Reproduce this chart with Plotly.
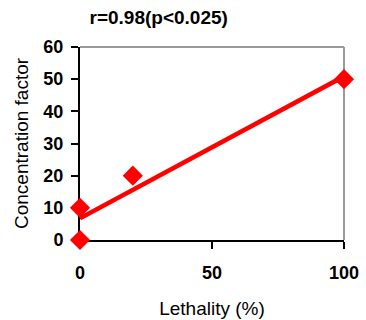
import numpy as np
import plotly.graph_objects as go

lethality = [0, 0, 20, 100]
conc_factor = [0, 10, 20, 50]
x_ticks = [0, 50, 100]
y_ticks = [0, 10, 20, 30, 40, 50, 60]
title_text = "r=0.98(p<0.025)"

slope, intercept = np.polyfit(lethality, conc_factor, 1)
fit_x = [0, 100]
fit_y = [intercept + slope * v for v in fit_x]

RED = "#FF0000"
FONT = "Liberation Sans, Arial, sans-serif"

fig = go.Figure()
fig.add_trace(go.Scatter(x=fit_x, y=fit_y, mode="lines",
                         line=dict(color=RED, width=4.5), cliponaxis=False,
                         hoverinfo="skip", showlegend=False))
fig.add_trace(go.Scatter(x=lethality, y=conc_factor, mode="markers",
                         marker=dict(symbol="diamond", size=15.5, color=RED,
                                     line=dict(width=0)),
                         cliponaxis=False, showlegend=False))

fig.update_layout(
    width=366, height=320,
    margin=dict(l=80, r=22, t=47, b=80, autoexpand=False),
    paper_bgcolor="white", plot_bgcolor="white",
    font=dict(family=FONT, color="black"),
    title=dict(text="<b>%s</b>" % title_text, font=dict(size=19, family=FONT),
               x=0.036, xref="paper", xanchor="left",
               y=1 - 17 / 320, yref="container", yanchor="middle"),
    xaxis=dict(range=[0, 100], tickvals=x_ticks, ticktext=["<b>%d</b>" % v for v in x_ticks],
               showgrid=False, zeroline=False, showline=True, linecolor="black", linewidth=2,
               ticks="outside", ticklen=7, tickwidth=2, tickcolor="black", layer="below traces",
               tickfont=dict(size=18), ticklabelstandoff=8,
               title=dict(text="Lethality (%)", font=dict(size=19), standoff=20)),
    yaxis=dict(range=[0, 60], tickvals=y_ticks, ticktext=["<b>%d</b>" % v for v in y_ticks],
               showgrid=False, zeroline=False, showline=True, linecolor="black", linewidth=2,
               ticks="outside", ticklen=7, tickwidth=2, tickcolor="black", layer="below traces",
               tickfont=dict(size=18), ticklabelstandoff=4,
               title=dict(text="Concentration factor", font=dict(size=19), standoff=10)),
    shapes=[
        dict(type="line", xref="paper", yref="paper", x0=0, x1=1, y0=1, y1=1,
             line=dict(color="#999999", width=2), layer="below"),
        dict(type="line", xref="paper", yref="paper", x0=1, x1=1, y0=0, y1=1,
             line=dict(color="#999999", width=2), layer="below"),
    ],
)

fig.write_html("out.html", config={"displayModeBar": False},
               post_script="document.body.style.margin='0';document.body.style.overflow='hidden';")
